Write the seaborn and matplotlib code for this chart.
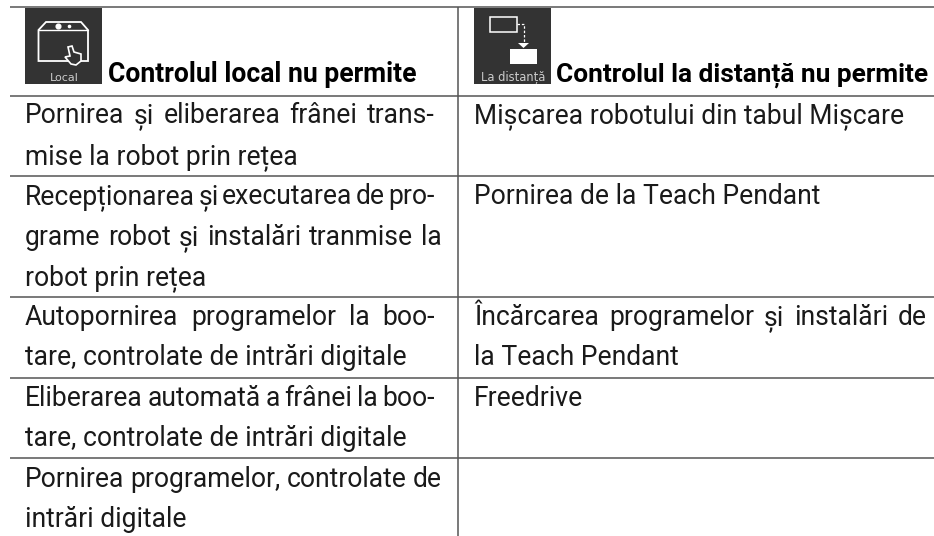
import matplotlib.pyplot as plt
import seaborn as sns
from matplotlib.patches import Rectangle, Polygon

# table text, one entry per printed line, True = justified to the cell width
header_left = "Controlul local nu permite"
header_right = "Controlul la distanță nu permite"
icon_left_label = "Local"
icon_right_label = "La distanță"

left_lines = [
    ("Pornirea și eliberarea frânei trans-", True),
    ("mise la robot prin rețea", False),
    ("Recepționarea și executarea de pro-", True),
    ("grame robot și instalări tranmise la", True),
    ("robot prin rețea", False),
    ("Autopornirea programelor la boo-", True),
    ("tare, controlate de intrări digitale", False),
    ("Eliberarea automată a frânei la boo-", True),
    ("tare, controlate de intrări digitale", False),
    ("Pornirea programelor, controlate de", True),
    ("intrări digitale", False),
]
right_lines = [
    ("Mișcarea robotului din tabul Mișcare", False),
    ("Pornirea de la Teach Pendant", False),
    ("Încărcarea programelor și instalări de", True),
    ("la Teach Pendant", False),
    ("Freedrive", False),
]
left_baselines = [123, 164, 204, 245, 285, 325, 365, 406, 446, 487, 527]
right_baselines = [123, 204, 325, 365, 406]
row_rules = [95.5, 176, 297, 378, 458]

sns.set_theme(style="white")
plt.rcParams["font.family"] = ["Roboto", "DejaVu Sans"]

W, H = 934, 536
fig = plt.figure(figsize=(W / 100, H / 100), dpi=100)
ax = fig.add_axes([0, 0, 1, 1])
ax.set_xlim(0, W)
ax.set_ylim(H, 0)
ax.axis("off")

BODY = 19.1
INK = "#1a1a1a"
LINE = "#555555"
ICON = "#333333"
renderer = fig.canvas.get_renderer()


def text_width(s, **kw):
    t = ax.text(0, 0, s, **kw)
    w = t.get_window_extent(renderer).width
    t.remove()
    return w


def draw_line(s, x0, x1, y, justify):
    if not justify:
        ax.text(x0, y, s, fontsize=BODY, color=INK, va="baseline")
        return
    # hyphens hang a little past the right margin in the reference, so they stop short
    if s.endswith("-"):
        x1 -= 7
    words = s.split(" ")
    widths = [text_width(w, fontsize=BODY) for w in words]
    gap = (x1 - x0 - sum(widths)) / (len(words) - 1)
    x = x0
    for w, ww in zip(words, widths):
        ax.text(x, y, w, fontsize=BODY, color=INK, va="baseline")
        x += ww + gap


# rules
ax.hlines([6.7], 10, W, color=LINE, lw=1.1)
ax.hlines(row_rules, 10, W, color=LINE, lw=1.1)
ax.vlines(458, 6.7, H, color=LINE, lw=1.1)

# left icon
ax.add_patch(Rectangle((25, 7.5), 77, 76.5, fc=ICON, ec="none"))
ax.add_patch(Polygon([(38.5, 61), (38.5, 30), (46, 22), (81, 22), (88, 30), (88, 61)],
                     closed=True, fc="none", ec="white", lw=1.3))
ax.plot([38.5, 88], [30, 30], color="white", lw=1.0)
ax.plot([57.5], [25.5], "o", ms=3.4, color="white")
ax.plot([69], [25.5], "o", ms=1.6, color="white")
ax.add_patch(Polygon([(68, 47), (72, 46), (74, 52), (81, 54), (81, 61), (76, 65), (71, 64), (65, 57), (70, 56)],
                     closed=True, fc=ICON, ec="white", lw=1.2))
ax.text(64.5, 81, icon_left_label, color="#cccccc", fontsize=8.0,
        family="DejaVu Sans", ha="center", va="baseline")

# right icon
ax.add_patch(Rectangle((474, 7.5), 77, 76.5, fc=ICON, ec="none"))
ax.add_patch(Rectangle((490, 17), 27, 15, fc="none", ec="white", lw=1.1))
ax.plot([517, 523.5, 523.5], [24, 24, 43], color="white", lw=0.9, ls=(0, (2, 1.5)))
ax.add_patch(Polygon([(518, 43), (529, 43), (523.5, 48)], closed=True, fc="white", ec="none"))
ax.add_patch(Rectangle((510, 49), 27, 15, fc="white", ec="none"))
ax.text(513, 81, icon_right_label, color="#cccccc", fontsize=8.3,
        family="DejaVu Sans", ha="center", va="baseline")

# headers
ax.text(108.5, 82, header_left, fontsize=19.1, fontweight="bold", color="black", va="baseline")
ax.text(555.5, 82, header_right, fontsize=18.9, fontweight="bold", color="black", va="baseline")

# body
for (s, j), y in zip(left_lines, left_baselines):
    draw_line(s, 25, 441.5, y, j)
for (s, j), y in zip(right_lines, right_baselines):
    draw_line(s, 474, 927, y, j)

fig.savefig("out.png", dpi=100)
